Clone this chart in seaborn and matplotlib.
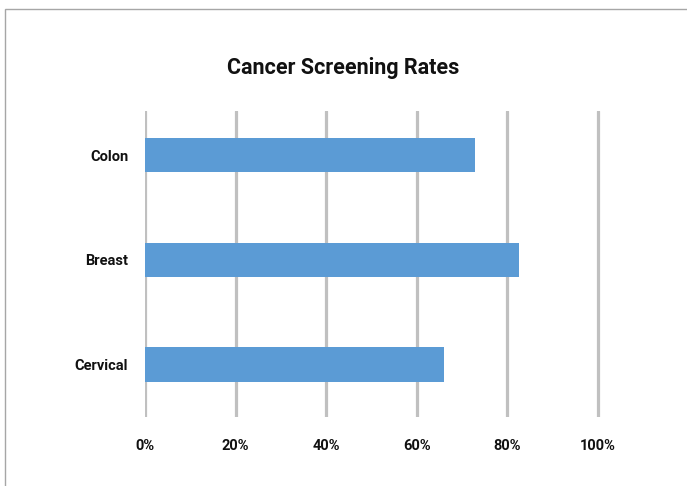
import matplotlib
matplotlib.use("Agg")
import matplotlib.pyplot as plt
import matplotlib.patches as mpatches
import pandas as pd
import seaborn as sns

categories = ["Colon", "Breast", "Cervical"]
rates = [72.8, 82.6, 66.0]
xticks = [0, 20, 40, 60, 80, 100]
xtick_labels = ["0%", "20%", "40%", "60%", "80%", "100%"]

df = pd.DataFrame({"site": categories, "rate": rates})

sns.set_style("white")
plt.rcParams["font.family"] = ["Roboto", "DejaVu Sans"]

fig = plt.figure(figsize=(6.87, 4.86), dpi=100)
ax = fig.add_axes([0.2111, 0.142, 0.7249, 0.6296])

sns.barplot(data=df, x="rate", y="site", orient="h", color="#5b9bd5",
            width=0.33, saturation=1, linewidth=0, ax=ax, zorder=3)

ax.set_xlim(0, 110)
ax.set_ylim(2.5, -0.42)
ax.set_xticks(xticks)
ax.set_xticklabels(xtick_labels)
ax.grid(axis="x", color="#c0c0c0", linewidth=2.3, zorder=0)
ax.grid(axis="y", visible=False)
ax.set_axisbelow(True)
for s in ax.spines.values():
    s.set_visible(False)
ax.tick_params(axis="both", length=0)
ax.tick_params(axis="x", pad=16)
ax.tick_params(axis="y", pad=12)
for t in ax.get_xticklabels() + ax.get_yticklabels():
    t.set_fontsize(10.5)
    t.set_fontweight("bold")
    t.set_color("#111111")
ax.set_xlabel("")
ax.set_ylabel("")

fig.text(0.5, 0.86, "Cancer Screening Rates", ha="center", va="center",
         fontsize=15.5, fontweight="bold", color="#111111")

# outer chart frame
fig.patches.append(mpatches.Rectangle((5 / 687, -0.05), 1.1, 1 - 9 / 486 + 0.05,
                                      transform=fig.transFigure, fill=False,
                                      edgecolor="#a6a6a6", linewidth=1.0))

fig.savefig("out.png", dpi=100)
